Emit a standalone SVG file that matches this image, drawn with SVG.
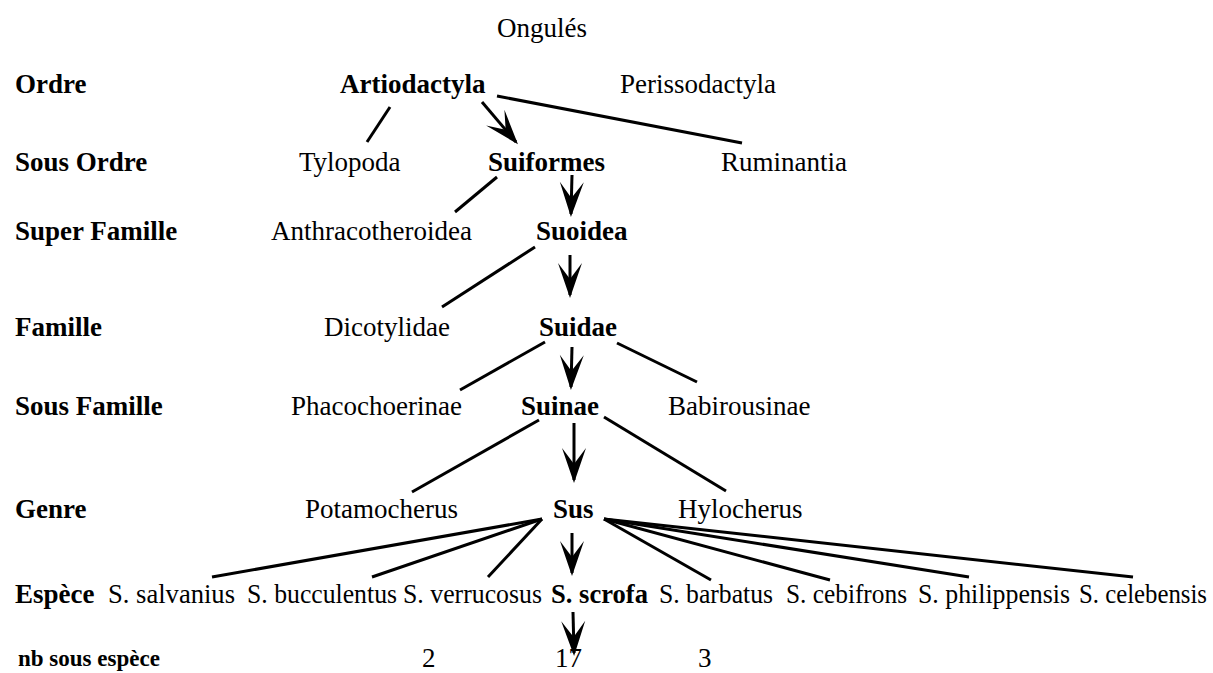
<svg xmlns="http://www.w3.org/2000/svg" width="1213" height="673" viewBox="0 0 1213 673">
<style>
text{font-family:"Liberation Serif","Times New Roman",serif;font-size:27px;fill:#000}
.b{font-weight:bold}
.s{font-size:23px}
.ln{stroke:#000;stroke-width:3;fill:none}
.ar{marker-end:url(#ah)}
</style>
<defs>
<marker id="ah" markerUnits="userSpaceOnUse" markerWidth="44" markerHeight="32" viewBox="-38 -14 44 28" refX="0" refY="0" orient="auto">
<path d="M3,0 L-32,-12 L-16,0 L-32,12 Z" fill="#000"/>
</marker>
</defs>
<rect width="1213" height="673" fill="#fff"/>
<g id="connectors">
<line class="ln" x1="390" y1="107" x2="367" y2="142"/>
<line class="ln ar" x1="482" y1="102" x2="516" y2="142"/>
<line class="ln" x1="497" y1="96" x2="742" y2="143"/>
<line class="ln" x1="497" y1="177" x2="455" y2="212"/>
<line class="ln ar" x1="572" y1="175" x2="571" y2="214"/>
<line class="ln" x1="535" y1="247" x2="442" y2="307"/>
<line class="ln ar" x1="570" y1="255" x2="570" y2="295"/>
<line class="ln" x1="545" y1="342" x2="460" y2="390"/>
<line class="ln ar" x1="572" y1="347" x2="571" y2="387"/>
<line class="ln" x1="617" y1="343" x2="697" y2="382"/>
<line class="ln" x1="539" y1="420" x2="412" y2="492"/>
<line class="ln ar" x1="574" y1="423" x2="574" y2="480"/>
<line class="ln" x1="604" y1="417" x2="726" y2="491"/>
<line class="ln" x1="542" y1="519" x2="212" y2="577"/>
<line class="ln" x1="542" y1="519" x2="372" y2="577"/>
<line class="ln" x1="542" y1="519" x2="488" y2="577"/>
<line class="ln ar" x1="572" y1="533" x2="572" y2="573"/>
<line class="ln" x1="604" y1="519" x2="711" y2="580"/>
<line class="ln" x1="604" y1="519" x2="830" y2="580"/>
<line class="ln" x1="604" y1="519" x2="969" y2="577"/>
<line class="ln" x1="604" y1="519" x2="1133" y2="577"/>
<line class="ln ar" x1="573" y1="612" x2="574" y2="653"/>
</g>
<g id="ongules"><text x="497" y="37">Ongulés</text></g>
<g id="lbl-ordre"><text class="b" x="15" y="93">Ordre</text></g>
<g id="artiodactyla"><text class="b" x="340" y="93">Artiodactyla</text></g>
<g id="perissodactyla"><text x="620" y="93">Perissodactyla</text></g>
<g id="lbl-sousordre"><text class="b" x="15" y="171">Sous Ordre</text></g>
<g id="tylopoda"><text x="299" y="171">Tylopoda</text></g>
<g id="suiformes"><text class="b" x="488" y="171">Suiformes</text></g>
<g id="ruminantia"><text x="721" y="171">Ruminantia</text></g>
<g id="lbl-superfamille"><text class="b" x="15" y="240">Super Famille</text></g>
<g id="anthracotheroidea"><text x="271" y="240">Anthracotheroidea</text></g>
<g id="suoidea"><text class="b" x="536" y="240">Suoidea</text></g>
<g id="lbl-famille"><text class="b" x="15" y="336">Famille</text></g>
<g id="dicotylidae"><text x="324" y="336">Dicotylidae</text></g>
<g id="suidae"><text class="b" x="539" y="336">Suidae</text></g>
<g id="lbl-sousfamille"><text class="b" x="15" y="415">Sous Famille</text></g>
<g id="phacochoerinae"><text x="291" y="415">Phacochoerinae</text></g>
<g id="suinae"><text class="b" x="521" y="415">Suinae</text></g>
<g id="babirousinae"><text x="668" y="415">Babirousinae</text></g>
<g id="lbl-genre"><text class="b" x="15" y="518">Genre</text></g>
<g id="potamocherus"><text x="305" y="518">Potamocherus</text></g>
<g id="sus"><text class="b" x="553" y="518">Sus</text></g>
<g id="hylocherus"><text x="678" y="518">Hylocherus</text></g>
<g id="lbl-espece"><text class="b" x="15" y="603">Espèce</text></g>
<g id="salvanius"><text x="108" y="603" textLength="127" lengthAdjust="spacingAndGlyphs">S. salvanius</text></g>
<g id="bucculentus"><text x="247" y="603" textLength="150" lengthAdjust="spacingAndGlyphs">S. bucculentus</text></g>
<g id="verrucosus"><text x="403" y="603" textLength="139" lengthAdjust="spacingAndGlyphs">S. verrucosus</text></g>
<g id="scrofa"><text class="b" x="551" y="603" textLength="97" lengthAdjust="spacingAndGlyphs">S. scrofa</text></g>
<g id="barbatus"><text x="659" y="603" textLength="114" lengthAdjust="spacingAndGlyphs">S. barbatus</text></g>
<g id="cebifrons"><text x="786" y="603" textLength="121" lengthAdjust="spacingAndGlyphs">S. cebifrons</text></g>
<g id="philippensis"><text x="918" y="603" textLength="152" lengthAdjust="spacingAndGlyphs">S. philippensis</text></g>
<g id="celebensis"><text x="1079" y="603" font-size="24" textLength="128" lengthAdjust="spacingAndGlyphs">S. celebensis</text></g>
<g id="lbl-nb"><text class="b s" x="18" y="666">nb sous espèce</text></g>
<g id="nb-verrucosus"><text x="422" y="667">2</text></g>
<g id="nb-scrofa"><text x="555" y="667">17</text></g>
<g id="nb-barbatus"><text x="698" y="667">3</text></g>
</svg>
